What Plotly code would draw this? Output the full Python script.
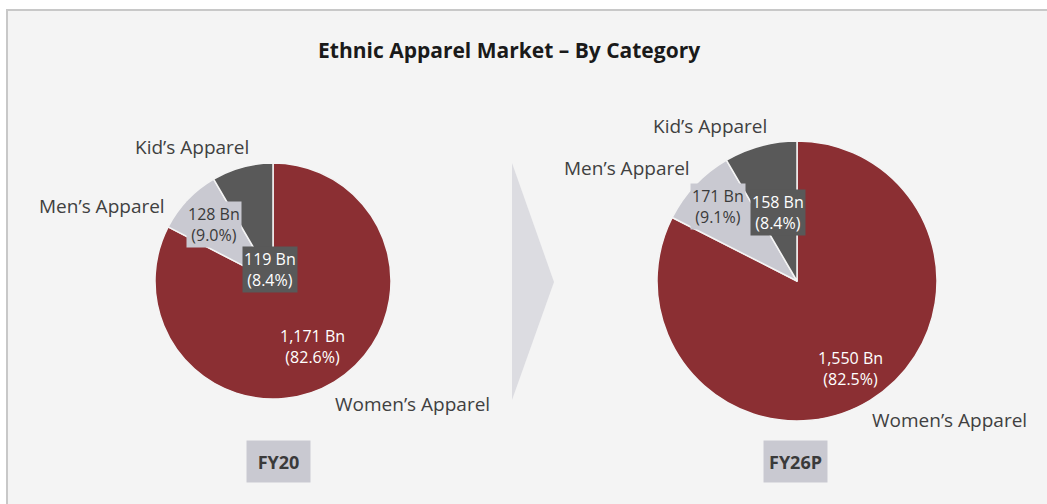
import math
import plotly.graph_objects as go

W, H = 1047, 504

categories = ["Women’s Apparel", "Men’s Apparel", "Kid’s Apparel"]
fy20_values = [1171, 128, 119]
fy26_values = [1550, 171, 158]
period_labels = ["FY20", "FY26P"]
title_text = "Ethnic Apparel Market – By Category"

colors = ["#8B2F33", "#C9C9D1", "#595959"]
value_text_colors = ["#FFFFFF", "#3A3A3A", "#FFFFFF"]
value_bg = [None, "#C9C9D1", "#595959"]

FONT = "Open Sans"

def px_x(x):
    return x / W

def px_y(y):
    return 1 - y / H

# pie geometry (pixels): center x, center y, radius
pies = [
    dict(values=fy20_values, cx=273, cy=281, r=118,
         rad=[0.65, 0.69, 0.10], name_pos=[(333, 404, "left"), (167, 206, "right"), (251, 147, "right")],
         box=(278.5, 461.5)),
    dict(values=fy26_values, cx=797, cy=281, r=140,
         rad=[0.73, 0.78, 0.51], name_pos=[(870, 420, "left"), (692, 168, "right"), (769, 126, "right")],
         box=(795, 461.5)),
]

fig = go.Figure()
annotations = []
shapes = []

# panel background
shapes.append(dict(type="rect", xref="paper", yref="paper",
                   x0=px_x(7), x1=px_x(1080), y0=px_y(540), y1=px_y(10),
                   fillcolor="#F4F4F4", line=dict(color="#C8C8C8", width=2), layer="below"))
# chevron arrow
shapes.append(dict(type="path", xref="paper", yref="paper",
                   path=f"M {px_x(512)},{px_y(163)} L {px_x(554)},{px_y(282)} L {px_x(512)},{px_y(400)} Z",
                   fillcolor="#DCDCE1", line=dict(width=0), layer="below"))

for p, period in zip(pies, period_labels):
    vals = p["values"]
    total = sum(vals)
    cx, cy, r = p["cx"], p["cy"], p["r"]
    fig.add_trace(go.Pie(
        labels=categories, values=vals, sort=False, direction="clockwise", rotation=0,
        marker=dict(colors=colors, line=dict(color="#F4F4F4", width=1.5)),
        textinfo="none", hoverinfo="label+value+percent", showlegend=False,
        domain=dict(x=[px_x(cx - r), px_x(cx + r)], y=[px_y(cy + r), px_y(cy - r)]),
    ))
    cum = 0
    for i, v in enumerate(vals):
        frac = v / total
        mid = (cum + frac / 2) * 2 * math.pi
        cum += frac
        lx = cx + p["rad"][i] * r * math.sin(mid)
        ly = cy - p["rad"][i] * r * math.cos(mid)
        a = dict(x=px_x(lx), y=px_y(ly), xref="paper", yref="paper",
                 text=f"{v:,} Bn<br>({frac*100:.1f}%)", showarrow=False,
                 font=dict(family=FONT, size=16, color=value_text_colors[i]),
                 xanchor="center", yanchor="middle", borderpad=1)
        if value_bg[i]:
            a["bgcolor"] = value_bg[i]
        annotations.append(a)
        nx, ny, anc = p["name_pos"][i]
        annotations.append(dict(x=px_x(nx), y=px_y(ny), xref="paper", yref="paper",
                                text=categories[i], showarrow=False, xanchor=anc, yanchor="middle",
                                font=dict(family=FONT, size=19, color="#404040")))
    bx, by = p["box"]
    annotations.append(dict(x=px_x(bx), y=px_y(by), xref="paper", yref="paper",
                            text=f"<b>{period}</b>", showarrow=False, xanchor="center", yanchor="middle",
                            width=59, height=37, bgcolor="#C9C9D1", borderpad=2,
                            font=dict(family=FONT, size=18, color="#3A3A3A")))

annotations.append(dict(x=px_x(509), y=px_y(50), xref="paper", yref="paper",
                        text=f"<b>{title_text}</b>", showarrow=False, xanchor="center", yanchor="middle",
                        font=dict(family=FONT, size=21, color="#1A1A1A")))

fig.update_layout(width=W, height=H, margin=dict(l=0, r=0, t=0, b=0),
                  paper_bgcolor="#FFFFFF", plot_bgcolor="#FFFFFF",
                  annotations=annotations, shapes=shapes)

fig.write_html("out.html", config={"displayModeBar": False},
               post_script="document.body.style.margin='0';document.body.style.overflow='hidden';")
